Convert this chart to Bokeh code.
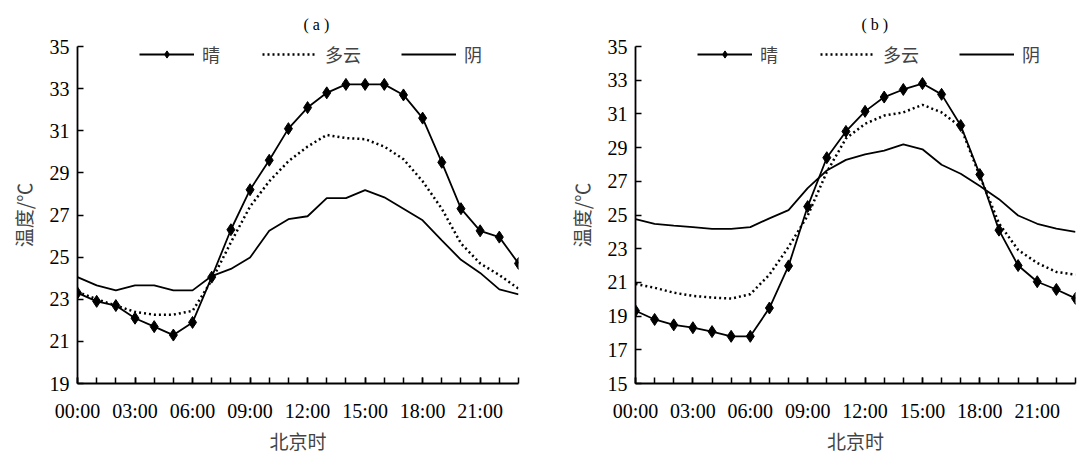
from bokeh.plotting import figure
from bokeh.models import FixedTicker, Legend, LegendItem
from bokeh.layouts import row
from bokeh.embed import file_html
from bokeh.resources import INLINE

hours = list(range(24))
label_hours = [0, 3, 6, 9, 12, 15, 18, 21]
tick_labels = ["00:00", "03:00", "06:00", "09:00", "12:00", "15:00", "18:00", "21:00"]
series_names = ["晴", "多云", "阴"]

a_sunny = [23.3, 22.9, 22.7, 22.1, 21.7, 21.3, 21.9, 24.05, 26.3, 28.2, 29.6, 31.1,
           32.1, 32.8, 33.2, 33.2, 33.2, 32.7, 31.6, 29.5, 27.3, 26.25, 25.95, 24.7]
a_cloudy = [23.35, 23.0, 22.7, 22.4, 22.27, 22.27, 22.45, 23.9, 25.7, 27.4, 28.6, 29.55,
            30.25, 30.8, 30.65, 30.6, 30.25, 29.65, 28.6, 27.3, 25.65, 24.7, 24.15, 23.5]
a_overcast = [24.05, 23.66, 23.42, 23.66, 23.66, 23.42, 23.42, 24.1, 24.44, 24.98, 26.25, 26.8,
              26.94, 27.8, 27.8, 28.18, 27.84, 27.3, 26.75, 25.8, 24.87, 24.25, 23.47, 23.23]

b_sunny = [19.32, 18.8, 18.48, 18.31, 18.08, 17.8, 17.8, 19.48, 21.98, 25.5, 28.4, 29.96,
           31.15, 32.0, 32.45, 32.8, 32.16, 30.31, 27.4, 24.1, 22.0, 21.04, 20.58, 20.05]
b_cloudy = [20.91, 20.68, 20.39, 20.2, 20.1, 20.04, 20.3, 21.46, 23.1, 24.96, 27.55, 29.54,
            30.41, 30.9, 31.09, 31.54, 31.09, 30.22, 27.3, 24.5, 22.93, 22.15, 21.62, 21.46]
b_overcast = [24.76, 24.47, 24.37, 24.28, 24.18, 24.18, 24.28, 24.8, 25.29, 26.6, 27.64, 28.27,
              28.6, 28.82, 29.19, 28.9, 27.98, 27.45, 26.72, 25.94, 24.97, 24.48, 24.19, 24.0]

a_yticks = [19, 21, 23, 25, 27, 29, 31, 33, 35]
b_yticks = [15, 17, 19, 21, 23, 25, 27, 29, 31, 33, 35]

SERIF = "Liberation Serif"
CJK = "Noto Sans CJK SC"
MIXED = "Liberation Serif, Noto Sans CJK SC"


def make_panel(title, sunny, cloudy, overcast, yticks, width, bl, br):
    p = figure(width=width, height=457, x_range=(0, 23), y_range=(yticks[0], yticks[-1]),
               output_backend="svg", toolbar_location=None,
               min_border_left=bl, min_border_right=br, min_border_top=41, min_border_bottom=74)
    p.outline_line_color = None
    p.xgrid.visible = False
    p.ygrid.visible = False
    p.background_fill_color = "white"

    p.title.text = title
    p.title.align = "left"
    p.title.offset = 226
    p.title.standoff = 27
    p.title.text_font = SERIF
    p.title.text_font_size = "16px"
    p.title.text_font_style = "normal"
    p.title.text_color = "black"

    xa = p.xaxis[0]
    xa.ticker = FixedTicker(ticks=label_hours, minor_ticks=hours)
    xa.major_label_overrides = {h: t for h, t in zip(label_hours, tick_labels)}
    xa.major_tick_in = 6
    xa.major_tick_out = 0
    xa.minor_tick_in = 6
    xa.minor_tick_out = 0
    xa.major_tick_line_width = 1.5
    xa.minor_tick_line_width = 1.5
    xa.axis_line_width = 1.8
    xa.major_label_text_font = SERIF
    xa.major_label_text_font_size = "20px"
    xa.major_label_text_color = "black"
    xa.major_label_standoff = 16
    xa.axis_label = "北京时"
    xa.axis_label_text_font = CJK
    xa.axis_label_text_font_size = "19px"
    xa.axis_label_text_font_style = "normal"
    xa.axis_label_standoff = 2

    ya = p.yaxis[0]
    ya.ticker = FixedTicker(ticks=yticks)
    ya.major_tick_in = 6
    ya.major_tick_out = 0
    ya.minor_tick_line_color = None
    ya.major_tick_line_width = 1.5
    ya.axis_line_width = 1.8
    ya.major_label_text_font = SERIF
    ya.major_label_text_font_size = "20px"
    ya.major_label_text_color = "black"
    ya.major_label_standoff = 8
    ya.axis_label = "温度/℃"
    ya.axis_label_text_font = CJK
    ya.axis_label_text_font_size = "19px"
    ya.axis_label_text_font_style = "normal"
    ya.axis_label_standoff = 10

    r_sun = p.line(hours, sunny, line_color="black", line_width=1.8)
    r_sun_m = p.scatter(hours, sunny, marker="diamond", size=12,
                        fill_color="black", line_color="black", line_width=1)
    r_cld = p.line(hours, cloudy, line_color="black", line_width=2.5, line_dash="2 3")
    r_ovc = p.line(hours, overcast, line_color="black", line_width=1.8)

    legend = Legend(items=[LegendItem(label=series_names[0], renderers=[r_sun, r_sun_m]),
                           LegendItem(label=series_names[1], renderers=[r_cld]),
                           LegendItem(label=series_names[2], renderers=[r_ovc])],
                    orientation="horizontal", location=(62, 316),
                    glyph_width=55, glyph_height=18, label_height=18,
                    label_standoff=8, spacing=40, padding=0, margin=0,
                    label_text_font=MIXED, label_text_font_size="18px",
                    background_fill_alpha=0, border_line_color=None)
    p.add_layout(legend, "center")
    return p


pa = make_panel("( a )", a_sunny, a_cloudy, a_overcast, a_yticks, 540, 77, 22)
pb = make_panel("( b )", b_sunny, b_cloudy, b_overcast, b_yticks, 538, 95, 3)

layout = row(pa, pb)
open("out.html", "w").write(file_html(layout, INLINE))
